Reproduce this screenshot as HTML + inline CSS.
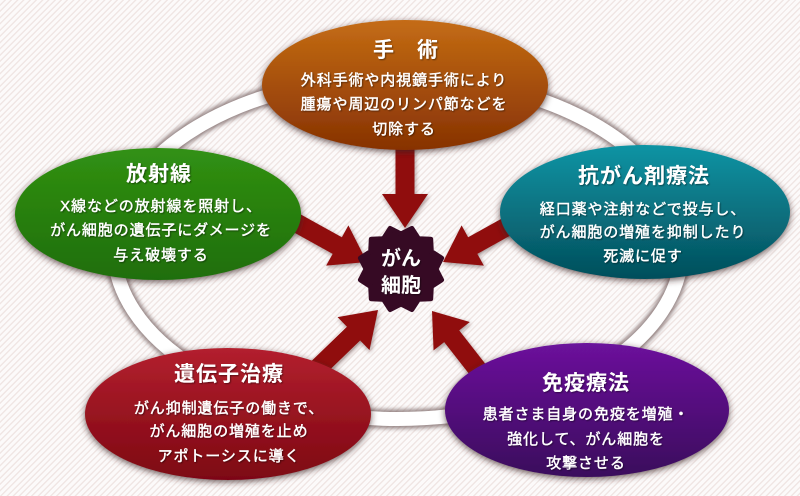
<!DOCTYPE html>
<html><head><meta charset="utf-8">
<style>
html,body{margin:0;padding:0;}
body{width:800px;height:496px;overflow:hidden;background:#fbf8f7;}
.bg{position:absolute;left:0;top:0;width:800px;height:496px;background:repeating-linear-gradient(135deg,#fcfafa 0px,#fcfafa 3px,#f0e6e4 3px,#f0e6e4 4.4px);}
svg{position:absolute;left:0;top:0;}
text{font-family:"Liberation Sans","Noto Sans CJK JP",sans-serif;fill:#fff;}
.t{font-size:21px;font-weight:bold;letter-spacing:1px;}
.b{font-size:15px;letter-spacing:0.9px;stroke:#fff;stroke-width:0.4px;}
.s{font-size:20px;font-weight:bold;}
</style></head>
<body>
<div class="bg"></div>
<svg width="800" height="496" viewBox="0 0 800 496">
<defs>
<filter id="sh" x="-20%" y="-20%" width="140%" height="150%">
<feGaussianBlur in="SourceAlpha" stdDeviation="3.5"/>
<feOffset dx="0" dy="2" result="b"/>
<feFlood flood-color="#3a2222" flood-opacity="0.75"/>
<feComposite in2="b" operator="in"/>
<feMerge><feMergeNode/><feMergeNode in="SourceGraphic"/></feMerge>
</filter>
<filter id="ash" x="-30%" y="-30%" width="160%" height="160%">
<feGaussianBlur in="SourceAlpha" stdDeviation="2"/>
<feOffset dx="1" dy="2" result="b"/>
<feFlood flood-color="#3a1a1a" flood-opacity="0.45"/>
<feComposite in2="b" operator="in"/>
<feMerge><feMergeNode/><feMergeNode in="SourceGraphic"/></feMerge>
</filter>
<filter id="rsh" x="-10%" y="-10%" width="120%" height="120%">
<feGaussianBlur stdDeviation="2"/>
</filter>
<filter id="tsh" x="-10%" y="-30%" width="120%" height="160%">
<feGaussianBlur in="SourceAlpha" stdDeviation="0.8"/>
<feOffset dx="1" dy="1" result="b"/>
<feFlood flood-color="#000" flood-opacity="0.45"/>
<feComposite in2="b" operator="in"/>
<feMerge><feMergeNode/><feMergeNode in="SourceGraphic"/></feMerge>
</filter>
<linearGradient id="gO" x1="0" y1="0" x2="0" y2="1"><stop offset="0" stop-color="#c46c14"/><stop offset="1" stop-color="#873203"/></linearGradient>
<linearGradient id="gG" x1="0" y1="0" x2="0" y2="1"><stop offset="0" stop-color="#319113"/><stop offset="1" stop-color="#1f6e09"/></linearGradient>
<linearGradient id="gT" x1="0" y1="0" x2="0" y2="1"><stop offset="0" stop-color="#0d94a4"/><stop offset="1" stop-color="#044e5b"/></linearGradient>
<linearGradient id="gR" x1="0" y1="0" x2="0" y2="1"><stop offset="0" stop-color="#b3202e"/><stop offset="1" stop-color="#7d0612"/></linearGradient>
<linearGradient id="gP" x1="0" y1="0" x2="0" y2="1"><stop offset="0" stop-color="#6c129c"/><stop offset="1" stop-color="#3a075c"/></linearGradient>
</defs>

<!-- ring -->
<ellipse cx="398" cy="248" rx="284" ry="171" fill="none" stroke="#7a6666" stroke-width="19" filter="url(#rsh)" opacity="0.8"/>
<ellipse cx="398" cy="248" rx="284" ry="171" fill="none" stroke="#ffffff" stroke-width="14"/>

<!-- arrows -->
<g fill="#901111" filter="url(#ash)">
<polygon transform="translate(405,228) rotate(90)" points="0,0 -34,-23 -34,-9.5 -100,-9.5 -100,9.5 -34,9.5 -34,23"/>
<polygon transform="translate(367,262) rotate(29)" points="0,0 -34,-23 -34,-9.5 -100,-9.5 -100,9.5 -34,9.5 -34,23"/>
<polygon transform="translate(443,262) rotate(151)" points="0,0 -34,-23 -34,-9.5 -100,-9.5 -100,9.5 -34,9.5 -34,23"/>
<polygon transform="translate(378,310) rotate(-44)" points="0,0 -34,-23 -34,-9.5 -95,-9.5 -95,9.5 -34,9.5 -34,23"/>
<polygon transform="translate(432,311) rotate(-128)" points="0,0 -32,-23 -32,-9.5 -95,-9.5 -95,9.5 -32,9.5 -32,23"/>
</g>

<!-- ellipses -->
<g filter="url(#sh)">
<ellipse cx="405" cy="85" rx="143" ry="65" fill="url(#gO)"/>
<ellipse cx="158" cy="214" rx="143" ry="66" fill="url(#gG)"/>
<ellipse cx="645" cy="212" rx="145" ry="67" fill="url(#gT)"/>
<ellipse cx="228" cy="414" rx="143" ry="66" fill="url(#gR)"/>
<ellipse cx="587" cy="410" rx="142" ry="67" fill="url(#gP)"/>
</g>

<!-- center star -->
<polygon transform="translate(401,269)" fill="#360a24" stroke="#360a24" stroke-width="5" stroke-linejoin="round"
points="35,0 40.57,10.87 30.31,17.5 29.7,29.7 17.5,30.31 10.87,40.57 0,35 -10.87,40.57 -17.5,30.31 -29.7,29.7 -30.31,17.5 -40.57,10.87 -35,0 -40.57,-10.87 -30.31,-17.5 -29.7,-29.7 -17.5,-30.31 -10.87,-40.57 0,-35 10.87,-40.57 17.5,-30.31 29.7,-29.7 30.31,-17.5 40.57,-10.87"/>

<g filter="url(#tsh)" text-anchor="middle">
<text class="s" x="401" y="265">がん</text>
<text class="s" x="401" y="292">細胞</text>

<text class="t" x="406" y="57">手　術</text>
<text class="b" x="404" y="85">外科手術や内視鏡手術により</text>
<text class="b" x="404" y="109">腫瘍や周辺のリンパ節などを</text>
<text class="b" x="404" y="134">切除する</text>

<text class="t" x="159" y="181">放射線</text>
<text class="b" x="161" y="211">X線などの放射線を照射し、</text>
<text class="b" x="161" y="235">がん細胞の遺伝子にダメージを</text>
<text class="b" x="161" y="260">与え破壊する</text>

<text class="t" x="644" y="183">抗がん剤療法</text>
<text class="b" x="643" y="214">経口薬や注射などで投与し、</text>
<text class="b" x="643" y="237">がん細胞の増殖を抑制したり</text>
<text class="b" x="643" y="261">死滅に促す</text>

<text class="t" x="229" y="381">遺伝子治療</text>
<text class="b" x="229" y="413">がん抑制遺伝子の働きで、</text>
<text class="b" x="229" y="436">がん細胞の増殖を止め</text>
<text class="b" x="229" y="461">アポトーシスに導く</text>

<text class="t" x="586" y="390">免疫療法</text>
<text class="b" x="586" y="419">患者さま自身の免疫を増殖・</text>
<text class="b" x="586" y="444">強化して、がん細胞を</text>
<text class="b" x="586" y="468">攻撃させる</text>
</g>
</svg>
</body></html>
